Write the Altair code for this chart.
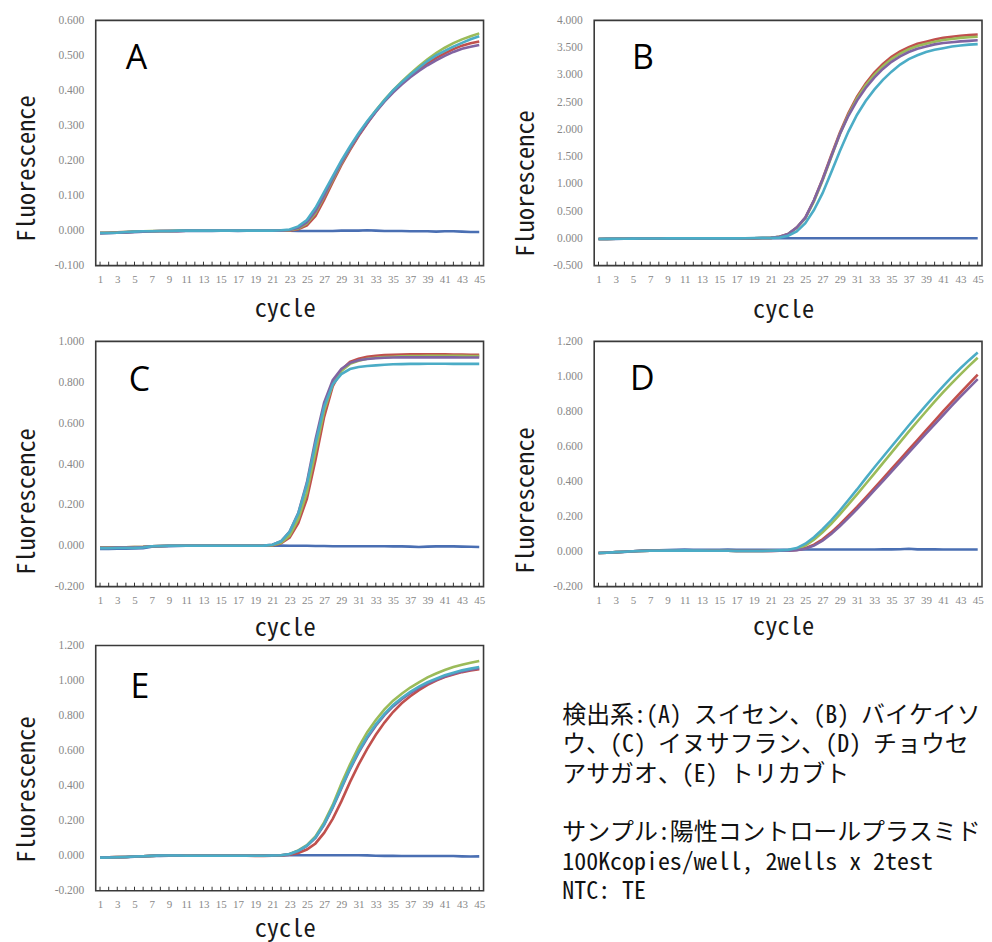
import altair as alt
import pandas as pd

CYCLES = list(range(1, 46))
X_LABELS = list(range(1, 46, 2))
SERIES = ["0 NTC", "1 red", "2 green", "3 purple", "4 cyan"]
COLORS = ["#4A6FB3", "#C0504D", "#9BBB59", "#8064A2", "#4BACC6"]

# ---------------- Panel A ----------------
A_NTC = [-0.007, -0.007, -0.006, -0.005, -0.004, -0.003, -0.002, -0.002, -0.001, -0.002,
         -0.001, -0.001, 0.000, -0.001, 0.000, 0.000, -0.001, 0.000, 0.000, 0.000,
         0.000, 0.000, 0.000, -0.001, -0.001, -0.001, -0.001, -0.001, 0.000, 0.000,
         0.000, 0.001, 0.000, -0.001, -0.001, -0.001, -0.002, -0.002, -0.002, -0.003,
         -0.002, -0.002, -0.003, -0.004, -0.004]
A_RED = [-0.006, -0.006, -0.005, -0.004, -0.003, -0.002, -0.002, -0.001, -0.001, -0.001,
         0.000, 0.000, 0.000, 0.000, 0.000, 0.000, 0.000, 0.000, 0.000, 0.000,
         0.000, 0.000, 0.000, 0.004, 0.015, 0.042, 0.088, 0.138, 0.187, 0.230,
         0.270, 0.306, 0.340, 0.370, 0.397, 0.420, 0.442, 0.461, 0.478, 0.493,
         0.506, 0.518, 0.528, 0.535, 0.540]
A_GREEN = [-0.007, -0.006, -0.005, -0.004, -0.003, -0.002, -0.001, -0.001, -0.001, 0.000,
           0.000, 0.000, 0.000, 0.000, 0.000, 0.000, 0.000, 0.000, 0.000, 0.000,
           0.000, 0.000, 0.001, 0.006, 0.020, 0.050, 0.097, 0.145, 0.192, 0.234,
           0.274, 0.310, 0.343, 0.373, 0.400, 0.425, 0.448, 0.469, 0.489, 0.507,
           0.522, 0.535, 0.546, 0.555, 0.563]
A_PURPLE = [-0.008, -0.007, -0.006, -0.005, -0.004, -0.003, -0.002, -0.001, -0.001, -0.001,
            0.000, 0.000, 0.000, 0.000, 0.000, 0.000, 0.000, 0.000, 0.000, 0.000,
            0.000, 0.000, 0.002, 0.008, 0.024, 0.055, 0.100, 0.148, 0.194, 0.235,
            0.273, 0.307, 0.339, 0.368, 0.394, 0.417, 0.438, 0.456, 0.472, 0.486,
            0.499, 0.510, 0.519, 0.525, 0.530]
A_CYAN = [-0.007, -0.007, -0.006, -0.004, -0.003, -0.002, -0.002, -0.001, -0.001, 0.000,
          0.000, 0.000, 0.000, 0.000, 0.000, 0.000, 0.000, 0.000, 0.000, 0.000,
          0.000, 0.001, 0.003, 0.012, 0.030, 0.065, 0.110, 0.155, 0.200, 0.240,
          0.278, 0.312, 0.343, 0.372, 0.400, 0.423, 0.445, 0.465, 0.484, 0.500,
          0.513, 0.525, 0.536, 0.546, 0.555]

# ---------------- Panel B ----------------
B_NTC = [-0.010, -0.010, -0.008, -0.006, -0.005, -0.004, -0.003, -0.002, -0.002, -0.001,
         0.000, 0.000, 0.000, 0.000, 0.000, 0.000, 0.000, 0.000, 0.000, 0.003,
         0.005, 0.005, 0.004, 0.003, 0.002, 0.002, 0.002, 0.002, 0.002, 0.002,
         0.002, 0.002, 0.002, 0.002, 0.002, 0.002, 0.002, 0.002, 0.002, 0.002,
         0.002, 0.002, 0.002, 0.002, 0.002]
B_RED = [-0.010, -0.009, -0.007, -0.006, -0.004, -0.003, -0.002, -0.001, 0.000, 0.000,
         0.000, 0.000, 0.000, 0.000, 0.000, 0.000, 0.000, 0.002, 0.004, 0.006,
         0.010, 0.030, 0.080, 0.200, 0.380, 0.700, 1.090, 1.520, 1.940, 2.300,
         2.600, 2.840, 3.040, 3.200, 3.330, 3.430, 3.510, 3.570, 3.610, 3.650,
         3.680, 3.700, 3.720, 3.730, 3.740]
B_GREEN = [-0.010, -0.009, -0.007, -0.006, -0.004, -0.003, -0.002, -0.001, 0.000, 0.000,
           0.000, 0.000, 0.000, 0.000, 0.000, 0.000, 0.000, 0.002, 0.004, 0.006,
           0.010, 0.028, 0.078, 0.195, 0.370, 0.680, 1.060, 1.490, 1.910, 2.270,
           2.570, 2.810, 3.000, 3.160, 3.290, 3.390, 3.470, 3.530, 3.570, 3.610,
           3.640, 3.660, 3.680, 3.690, 3.700]
B_PURPLE = [-0.010, -0.009, -0.007, -0.006, -0.004, -0.003, -0.002, -0.001, 0.000, 0.000,
            0.000, 0.000, 0.000, 0.000, 0.000, 0.000, 0.000, 0.002, 0.004, 0.006,
            0.010, 0.030, 0.080, 0.200, 0.380, 0.700, 1.080, 1.500, 1.910, 2.250,
            2.530, 2.760, 2.950, 3.110, 3.240, 3.340, 3.420, 3.480, 3.520, 3.560,
            3.585, 3.600, 3.615, 3.625, 3.635]
B_CYAN = [-0.010, -0.009, -0.007, -0.006, -0.004, -0.003, -0.002, -0.001, 0.000, 0.000,
          0.000, 0.000, 0.000, 0.000, 0.000, 0.000, 0.000, 0.003, 0.006, 0.010,
          0.008, 0.015, 0.050, 0.130, 0.280, 0.520, 0.830, 1.210, 1.600, 1.960,
          2.270, 2.520, 2.730, 2.910, 3.060, 3.190, 3.290, 3.360, 3.420, 3.460,
          3.490, 3.520, 3.540, 3.555, 3.565]

# ---------------- Panel C ----------------
C_NTC = [-0.015, -0.015, -0.014, -0.014, -0.013, -0.012, -0.005, -0.003, -0.002, -0.001,
         0.000, 0.000, 0.000, 0.000, 0.000, 0.000, 0.000, 0.000, 0.000, 0.000,
         0.001, 0.001, 0.000, 0.000, 0.000, -0.001, -0.001, -0.002, -0.002, -0.002,
         -0.002, -0.002, -0.002, -0.002, -0.003, -0.003, -0.004, -0.006, -0.004, -0.003,
         -0.003, -0.003, -0.004, -0.005, -0.006]
C_RED = [-0.008, -0.008, -0.007, -0.007, -0.006, -0.005, -0.002, -0.001, 0.000, 0.000,
         0.000, 0.000, 0.000, 0.000, 0.000, 0.000, 0.000, 0.000, 0.000, 0.000,
         0.002, 0.012, 0.040, 0.110, 0.230, 0.420, 0.630, 0.780, 0.860, 0.900,
         0.915, 0.925, 0.930, 0.933, 0.935, 0.936, 0.937, 0.937, 0.937, 0.937,
         0.937, 0.936, 0.936, 0.935, 0.934]
C_GREEN = [-0.009, -0.008, -0.008, -0.007, -0.006, -0.005, -0.002, -0.001, 0.000, 0.000,
           0.000, 0.000, 0.000, 0.000, 0.000, 0.000, 0.000, 0.000, 0.000, 0.000,
           0.003, 0.015, 0.050, 0.130, 0.260, 0.460, 0.660, 0.790, 0.855, 0.890,
           0.905, 0.915, 0.920, 0.923, 0.925, 0.927, 0.928, 0.929, 0.930, 0.930,
           0.930, 0.930, 0.930, 0.929, 0.928]
C_PURPLE = [-0.010, -0.010, -0.009, -0.009, -0.008, -0.006, -0.002, -0.001, 0.000, 0.000,
            0.000, 0.000, 0.000, 0.000, 0.000, 0.000, 0.000, 0.000, 0.000, 0.001,
            0.005, 0.022, 0.070, 0.160, 0.310, 0.520, 0.700, 0.810, 0.865, 0.895,
            0.908, 0.914, 0.918, 0.920, 0.921, 0.922, 0.922, 0.922, 0.922, 0.922,
            0.922, 0.922, 0.921, 0.921, 0.921]
C_CYAN = [-0.012, -0.012, -0.011, -0.011, -0.010, -0.008, -0.002, -0.001, 0.000, 0.000,
          0.000, 0.000, 0.000, 0.000, 0.000, 0.000, 0.000, 0.000, 0.000, 0.001,
          0.005, 0.022, 0.068, 0.158, 0.300, 0.500, 0.680, 0.790, 0.840, 0.865,
          0.875, 0.880, 0.883, 0.886, 0.888, 0.889, 0.890, 0.890, 0.891, 0.891,
          0.891, 0.890, 0.890, 0.890, 0.890]

# ---------------- Panel D ----------------
D_NTC = [-0.008, -0.006, -0.004, -0.002, 0.002, 0.006, 0.008, 0.008, 0.009, 0.010,
         0.012, 0.010, 0.010, 0.010, 0.010, 0.012, 0.010, 0.010, 0.010, 0.010,
         0.011, 0.011, 0.011, 0.012, 0.012, 0.012, 0.012, 0.012, 0.012, 0.012,
         0.012, 0.012, 0.012, 0.013, 0.013, 0.014, 0.016, 0.013, 0.014, 0.013,
         0.012, 0.012, 0.012, 0.012, 0.012]
D_RED = [-0.008, -0.006, -0.003, -0.001, 0.002, 0.004, 0.005, 0.005, 0.006, 0.006,
         0.007, 0.006, 0.006, 0.005, 0.005, 0.005, 0.004, 0.004, 0.004, 0.004,
         0.004, 0.005, 0.006, 0.010, 0.020, 0.040, 0.070, 0.110, 0.155, 0.205,
         0.255, 0.308, 0.362, 0.417, 0.472, 0.527, 0.582, 0.637, 0.692, 0.747,
         0.802, 0.855, 0.907, 0.959, 1.010]
D_GREEN = [-0.008, -0.006, -0.003, -0.001, 0.002, 0.004, 0.005, 0.005, 0.006, 0.006,
           0.007, 0.006, 0.006, 0.005, 0.005, 0.005, 0.004, 0.004, 0.004, 0.004,
           0.005, 0.006, 0.008, 0.015, 0.035, 0.068, 0.110, 0.158, 0.212, 0.270,
           0.327, 0.386, 0.445, 0.505, 0.565, 0.625, 0.685, 0.743, 0.800, 0.856,
           0.910, 0.962, 1.012, 1.060, 1.107]
D_PURPLE = [-0.008, -0.006, -0.003, -0.001, 0.002, 0.004, 0.005, 0.005, 0.006, 0.006,
            0.007, 0.006, 0.006, 0.005, 0.005, 0.005, 0.004, 0.004, 0.004, 0.004,
            0.004, 0.005, 0.006, 0.008, 0.016, 0.034, 0.062, 0.100, 0.145, 0.193,
            0.243, 0.295, 0.349, 0.403, 0.457, 0.511, 0.565, 0.619, 0.673, 0.727,
            0.780, 0.833, 0.885, 0.935, 0.985]
D_CYAN = [-0.008, -0.006, -0.003, -0.001, 0.002, 0.004, 0.005, 0.005, 0.006, 0.006,
          0.007, 0.006, 0.006, 0.005, 0.005, 0.005, 0.004, 0.004, 0.004, 0.004,
          0.005, 0.007, 0.010, 0.020, 0.045, 0.082, 0.128, 0.178, 0.234, 0.295,
          0.355, 0.418, 0.480, 0.540, 0.600, 0.660, 0.720, 0.778, 0.835, 0.890,
          0.945, 0.997, 1.047, 1.093, 1.137]

# ---------------- Panel E ----------------
E_NTC = [-0.010, -0.010, -0.009, -0.008, -0.006, -0.004, -0.002, -0.001, 0.000, 0.000,
         0.000, 0.001, 0.001, 0.001, 0.001, 0.001, 0.001, 0.001, 0.001, 0.002,
         0.002, 0.002, 0.003, 0.003, 0.003, 0.003, 0.003, 0.003, 0.003, 0.003,
         0.003, 0.002, 0.000, -0.001, -0.001, -0.002, -0.002, -0.002, -0.002, -0.002,
         -0.002, -0.002, -0.004, -0.005, -0.004]
E_RED = [-0.010, -0.009, -0.008, -0.007, -0.005, -0.003, -0.001, 0.002, 0.002, 0.001,
         0.000, 0.000, 0.000, 0.000, 0.000, 0.000, 0.000, 0.000, -0.001, -0.001,
         0.000, 0.001, 0.005, 0.015, 0.035, 0.070, 0.130, 0.210, 0.310, 0.420,
         0.520, 0.610, 0.690, 0.760, 0.820, 0.870, 0.910, 0.945, 0.975, 1.000,
         1.020, 1.035, 1.048, 1.057, 1.065]
E_GREEN = [-0.010, -0.009, -0.008, -0.007, -0.005, -0.003, -0.001, 0.001, 0.001, 0.001,
           0.000, 0.000, 0.000, 0.000, 0.000, 0.000, 0.000, 0.000, 0.000, 0.000,
           0.001, 0.003, 0.010, 0.030, 0.060, 0.110, 0.190, 0.290, 0.410, 0.520,
           0.620, 0.705, 0.775, 0.835, 0.885, 0.925, 0.960, 0.990, 1.018, 1.040,
           1.060, 1.077, 1.090, 1.102, 1.112]
E_PURPLE = [-0.010, -0.009, -0.008, -0.007, -0.005, -0.003, -0.001, 0.001, 0.001, 0.001,
            0.000, 0.000, 0.000, 0.000, 0.000, 0.000, 0.000, 0.000, 0.000, 0.000,
            0.001, 0.003, 0.009, 0.027, 0.055, 0.102, 0.176, 0.274, 0.384, 0.493,
            0.588, 0.672, 0.742, 0.802, 0.852, 0.893, 0.928, 0.958, 0.983, 1.004,
            1.023, 1.038, 1.051, 1.061, 1.070]
E_CYAN = [-0.011, -0.010, -0.009, -0.007, -0.005, -0.003, -0.001, 0.001, 0.001, 0.001,
          0.000, 0.000, 0.000, 0.000, 0.000, 0.000, 0.000, 0.000, 0.000, 0.000,
          0.001, 0.003, 0.010, 0.028, 0.057, 0.105, 0.180, 0.280, 0.390, 0.500,
          0.595, 0.680, 0.750, 0.810, 0.860, 0.900, 0.935, 0.965, 0.990, 1.010,
          1.030, 1.045, 1.058, 1.068, 1.077]

NOTE_DETECT = [
    "検出系:(A) スイセン、(B) バイケイソ",
    "ウ、(C) イヌサフラン、(D) チョウセン",
    "アサガオ、(E) トリカブト",
]
NOTE_SAMPLE = [
    "サンプル:陽性コントロールプラスミド",
    "100Kcopies/well, 2wells x 2test",
    "NTC: TE",
]

# ---------------- styling / layout ----------------
W = 389
FRAME_H = 246
LINE_H = 29.5
TITLE_FONT = "'Noto Sans Mono CJK JP', 'Noto Sans CJK JP', 'DejaVu Sans Mono', sans-serif"
NOTE_FONT = "'Noto Sans Mono CJK JP', 'Noto Sans CJK JP', sans-serif"
LABEL_FONT = "Liberation Serif"
LETTER_FONT = "Open Sans"

PANELS = [
    dict(letter="A", data=[A_NTC, A_RED, A_GREEN, A_PURPLE, A_CYAN], ymin=-0.1, ymax=0.6, n=7,
         top_pad=0, yty=148, xty=51, lx=30, ly=49),
    dict(letter="B", data=[B_NTC, B_RED, B_GREEN, B_PURPLE, B_CYAN], ymin=-0.5, ymax=4.0, n=9,
         top_pad=0, yty=163, xty=52, lx=38, ly=49),
    dict(letter="C", data=[C_NTC, C_RED, C_GREEN, C_PURPLE, C_CYAN], ymin=-0.2, ymax=1.0, n=6,
         top_pad=17, yty=177, xty=49, lx=33, ly=67),
    dict(letter="D", data=[D_NTC, D_RED, D_GREEN, D_PURPLE, D_CYAN], ymin=-0.2, ymax=1.2, n=7,
         top_pad=17, yty=176, xty=48, lx=36, ly=66),
    dict(letter="E", data=[E_NTC, E_RED, E_GREEN, E_PURPLE, E_CYAN], ymin=-0.2, ymax=1.2, n=7,
         top_pad=0, yty=144, xty=46, lx=35, ly=53),
]
Y_TITLE_X = -68


def make_panel(p):
    rows = []
    for name, vals in zip(SERIES, p["data"]):
        assert len(vals) == 45, (p["letter"], name, len(vals))
        for c, v in zip(CYCLES, vals):
            rows.append({"cycle": c, "value": v, "series": name})
    df = pd.DataFrame(rows)

    view_h = FRAME_H + p["top_pad"]
    span = p["ymax"] - p["ymin"]
    ytop = p["ymax"] + span * p["top_pad"] / FRAME_H
    yvals = [round(p["ymin"] + i * span / p["n"], 3) for i in range(p["n"] + 1)]

    xscale = alt.Scale(domain=[0.5, 45.5], nice=False, zero=False)
    yscale = alt.Scale(domain=[p["ymin"], ytop], nice=False, zero=False)

    xaxis = alt.Axis(values=X_LABELS, format="d", ticks=False, tickSize=0, domain=False, grid=False,
                     labelFont=LABEL_FONT, labelFontSize=11, labelColor="#888888", labelPadding=8,
                     labelFlush=False, labelOverlap=False,
                     title="cycle", titleFont=TITLE_FONT, titleFontSize=24.5, titleFontWeight="normal",
                     titleColor="#1a1a1a", titleX=W / 2 - 5, titleY=p["xty"], titleAlign="center",
                     titleBaseline="alphabetic")
    yaxis = alt.Axis(values=yvals, ticks=False, tickSize=0, domain=False, grid=False,
                     labelExpr="(datum.value < 0 ? '-' : '') + format(abs(datum.value), '.3f')",
                     labelFont=LABEL_FONT, labelFontSize=11.5, labelColor="#888888", labelPadding=12,
                     labelOverlap=False,
                     title="Fluorescence", titleFont=TITLE_FONT, titleFontSize=24.5,
                     titleFontWeight="normal", titleColor="#1a1a1a", titleX=Y_TITLE_X, titleY=p["yty"],
                     titleAngle=270, titleAlign="center", titleBaseline="middle")

    lines = alt.Chart(df).mark_line(strokeWidth=2.6).encode(
        x=alt.X("cycle:Q", scale=xscale, axis=xaxis, title="cycle"),
        y=alt.Y("value:Q", scale=yscale, axis=yaxis, title="Fluorescence"),
        color=alt.Color("series:N", scale=alt.Scale(domain=SERIES, range=COLORS), legend=None),
    )
    frame_df = pd.DataFrame({"x0": [0.5], "x1": [45.5], "y0": [p["ymin"]], "y1": [p["ymax"]]})
    frame = alt.Chart(frame_df).mark_rect(filled=False, stroke="#3a3a3a", strokeWidth=1.6).encode(
        x=alt.X("x0:Q", scale=xscale, axis=xaxis, title="cycle"),
        x2="x1:Q",
        y=alt.Y("y0:Q", scale=yscale, axis=yaxis, title="Fluorescence"),
        y2="y1:Q",
    )
    ticks = alt.Chart(pd.DataFrame({"cycle": CYCLES})).mark_rule(color="#333333", strokeWidth=1).encode(
        x=alt.X("cycle:Q", scale=xscale, axis=xaxis, title="cycle"),
        y=alt.value(view_h),
        y2=alt.value(view_h - 4),
    )
    letter = alt.Chart(pd.DataFrame({"k": [0]})).mark_text(
        text=p["letter"], font=LETTER_FONT, fontSize=34, align="left", baseline="alphabetic", color="#000000"
    ).encode(x=alt.value(p["lx"]), y=alt.value(p["ly"]))

    return alt.layer(lines, frame, ticks, letter).properties(width=W, height=view_h)


panels = [make_panel(p) for p in PANELS]


def note_block(lines, first_baseline):
    return alt.Chart(pd.DataFrame({"k": [0]})).mark_text(
        text=lines, font=NOTE_FONT, fontSize=24, lineHeight=LINE_H,
        align="left", baseline="alphabetic", limit=429, ellipsis="\u200b", color="#111111",
    ).encode(x=alt.value(-32), y=alt.value(first_baseline))


note = alt.layer(
    note_block(NOTE_DETECT, 77.5),
    note_block(NOTE_SAMPLE, 77.5 + 4 * LINE_H),
).properties(width=W, height=FRAME_H)

chart = alt.concat(
    *panels, note,
    columns=2,
    spacing={"row": 59, "column": 111},
    bounds="flush",
    align="each",
).properties(
    padding={"left": 7, "top": 5, "right": 0, "bottom": 6}
).configure_view(stroke=None)

chart.save("out.html", embed_options={"renderer": "svg", "actions": False})
